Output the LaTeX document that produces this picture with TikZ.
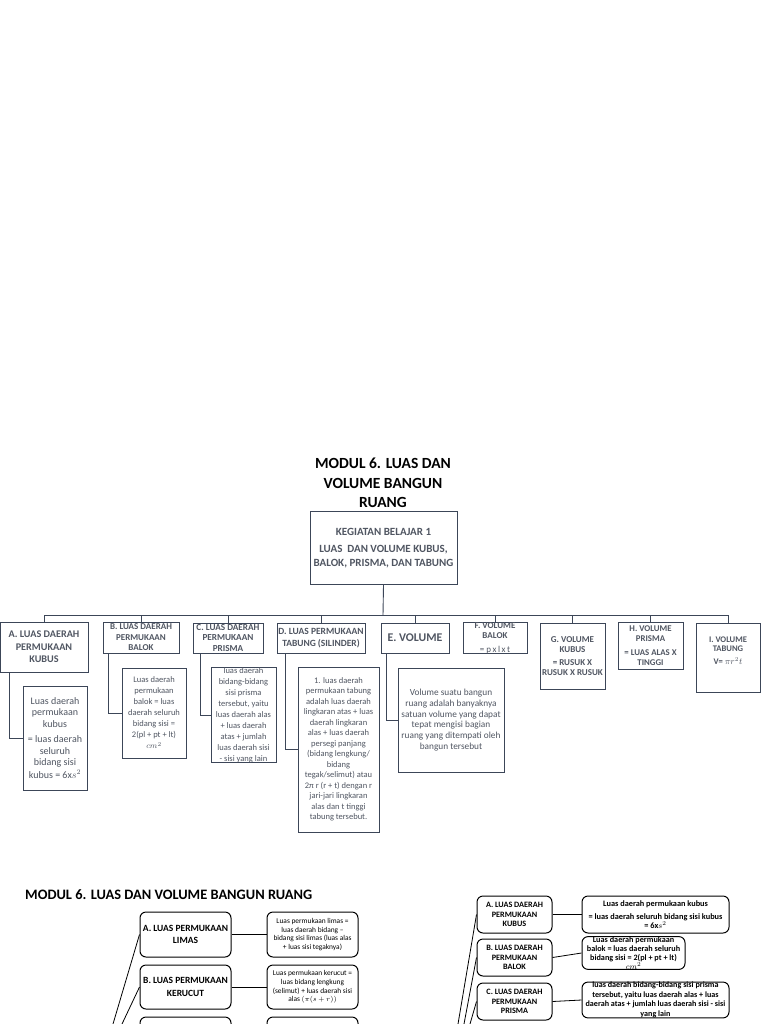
\documentclass[tikz,border=0pt]{standalone}
\usepackage{fontspec}
\setmainfont{Carlito}
\usetikzlibrary{calc}
\definecolor{bordc}{RGB}{60,70,88}
\definecolor{txtc}{RGB}{80,86,98}
\newcommand{\fsz}[2]{\fontsize{#1}{#2}\selectfont}
\begin{document}
\begin{tikzpicture}[x=1pt,y=-1pt,
  tb/.style={draw=bordc, line width=0.9pt, rectangle, inner sep=0pt, align=center, text=txtc},
  conn/.style={draw=bordc, line width=0.9pt},
  rb/.style={draw=black, line width=1pt, rounded corners=6pt, rectangle, inner sep=0pt, align=center, text=black},
  bconn/.style={draw=black, line width=0.8pt}]
\useasboundingbox (0,0) rectangle (768,1024);
\clip (0,0) rectangle (768,1024);
\fill[white] (0,0) rectangle (768,1024);

% ---------- top diagram ----------
\node[font=\bfseries\fsz{15.5}{19.5}, align=center] (title) at (383,483) {MODUL 6. LUAS DAN\\VOLUME BANGUN\\RUANG};

\node[tb, minimum width=147pt, minimum height=73pt, font=\bfseries\fsz{11}{13.5}] (kb) at (383.5,548)
  {KEGIATAN BELAJAR 1\\[3.5pt]LUAS\ \ DAN VOLUME KUBUS,\\BALOK, PRISMA, DAN TABUNG};

\node[tb, minimum width=88pt, minimum height=50pt, font=\bfseries\fsz{10.2}{12.5}] (A) at (44,647)
  {A. LUAS DAERAH\\PERMUKAAN\\KUBUS};
\node[tb, minimum width=76pt, minimum height=31pt, font=\bfseries\fsz{9}{10.5}] (B) at (141,637.5)
  {B. LUAS DAERAH\\PERMUKAAN\\BALOK};
\node[tb, minimum width=70pt, minimum height=30pt, font=\bfseries\fsz{9.2}{10.5}] (C) at (228,638)
  {C. LUAS DAERAH\\PERMUKAAN\\PRISMA};
\node[tb, minimum width=88pt, minimum height=30pt, font=\bfseries\fsz{9.5}{12}] (D) at (321,638)
  {D. LUAS PERMUKAAN\\TABUNG (SILINDER)};
\node[tb, minimum width=68pt, minimum height=30pt, font=\bfseries\fsz{11.8}{12}] (E) at (415,638)
  {E. VOLUME};
\node[tb, minimum width=64pt, minimum height=30pt, font=\bfseries\fsz{9}{10}] (F) at (495,638)
  {F. VOLUME\\BALOK\\[4pt]{\mdseries = p\,x\,l\,x\,t}};
\node[tb, minimum width=65pt, minimum height=66pt, font=\bfseries\fsz{9}{9.5}] (G) at (572.5,656)
  {G. VOLUME\\KUBUS\\[4pt]= RUSUK X\\RUSUK X RUSUK};
\node[tb, minimum width=65pt, minimum height=47pt, font=\bfseries\fsz{8.8}{9.8}] (H) at (650.5,645.5)
  {H. VOLUME\\PRISMA\\[4pt]= LUAS ALAS X\\TINGGI};
\node[tb, minimum width=64pt, minimum height=69pt, font=\bfseries\fsz{8.6}{9}] (I) at (728,657.5)
  {I. VOLUME\\TABUNG\\[4pt]V= $\pi r^2 t$\\[4pt]\mbox{}};

\coordinate (bus) at (383,615);
\draw[conn] (kb.south) -- (bus);
\foreach \n in {A,B,C,D,E,F,G,H,I} \draw[conn] (bus) -| (\n.north);

\node[tb, minimum width=64pt, minimum height=104pt, font=\fsz{10}{11.5}] (Ac) at (55,738)
  {Luas daerah\\permukaan\\kubus\\[4pt]= luas daerah\\seluruh\\bidang sisi\\[1pt]kubus = 6x$s^2$};
\node[tb, minimum width=64pt, minimum height=90pt, font=\fsz{8.5}{11}] (Bc) at (154,713)
  {Luas daerah\\permukaan\\balok = luas\\daerah seluruh\\bidang sisi =\\2(pl + pt + lt)\\$cm^2$};
\node[tb, minimum width=65pt, minimum height=94pt, font=\fsz{8.5}{11}] (Cc) at (243.5,715)
  {luas daerah\\bidang-bidang\\sisi prisma\\tersebut, yaitu\\luas daerah alas\\+ luas daerah\\atas + jumlah\\luas daerah sisi\\- sisi yang lain};
\node[tb, minimum width=81pt, minimum height=165pt, font=\fsz{8.5}{10.5}] (Dc) at (338.5,749.5)
  {1. luas daerah\\permukaan tabung\\adalah luas daerah\\lingkaran atas + luas\\daerah lingkaran\\alas + luas daerah\\persegi panjang\\(bidang lengkung/\\bidang\\tegak/selimut) atau\\2π r (r + t) dengan r\\jari-jari lingkaran\\alas dan t tinggi\\tabung tersebut.};
\node[tb, minimum width=106pt, minimum height=104pt, font=\fsz{9.3}{10.7}] (Ec) at (451,720)
  {Volume suatu bangun\\ruang adalah banyaknya\\satuan volume yang dapat\\tepat mengisi bagian\\ruang yang ditempati oleh\\bangun tersebut};

\draw[conn] ([xshift=10pt]A.south west) |- (Ac.west);
\draw[conn] ([xshift=6pt]B.south west) |- (Bc.west);
\draw[conn] ([xshift=8pt]C.south west) |- (Cc.west);
\draw[conn] ([xshift=9pt]D.south west) |- (Dc.west);
\draw[conn] ([xshift=6pt]E.south west) |- (Ec.west);

% ---------- bottom left diagram ----------
\node[anchor=west, inner sep=0pt, font=\bfseries\fsz{14.4}{16}] (t2) at (25,895) {MODUL 6. LUAS DAN VOLUME BANGUN RUANG};

\node[rb, minimum width=91pt, minimum height=45pt, font=\bfseries\fsz{9.5}{12.5}] (LA) at (185.5,934.5)
  {A. LUAS PERMUKAAN\\LIMAS};
\node[rb, minimum width=91pt, minimum height=45pt, font=\fsz{7.4}{8.7}] (LAc) at (312.5,934.5)
  {Luas permukaan limas =\\luas daerah bidang –\\bidang sisi limas (luas alas\\+ luas sisi tegaknya)};
\node[rb, minimum width=91pt, minimum height=44pt, font=\bfseries\fsz{9.5}{12.5}] (LB) at (185.5,987)
  {B. LUAS PERMUKAAN\\KERUCUT};
\node[rb, minimum width=91pt, minimum height=44pt, font=\fsz{7.4}{8.7}] (LBc) at (312.5,987)
  {Luas permukaan kerucut =\\luas bidang lengkung\\(selimut) + luas daerah sisi\\alas $(\pi(s+r))$};
\node[rb, minimum width=91pt, minimum height=45pt] (LC) at (185.5,1039.5) {};
\node[rb, minimum width=91pt, minimum height=45pt] (LCc) at (312.5,1039.5) {};

\draw[bconn] (LA.east) -- (LAc.west);
\draw[bconn] (LB.east) -- (LBc.west);
\draw[bconn] (LC.east) -- (LCc.west);
\coordinate (p1) at (113,1024);
\coordinate (p2) at (122,1024);
\draw[bconn] (p1) -- (LA.west);
\draw[bconn] (p2) -- (LB.west);

% ---------- bottom right diagram ----------
\node[rb, minimum width=75pt, minimum height=37pt, font=\bfseries\fsz{8.2}{9.6}] (RA) at (514.5,914.5)
  {A. LUAS DAERAH\\PERMUKAAN\\KUBUS};
\node[rb, minimum width=147pt, minimum height=37pt, font=\bfseries\fsz{8.3}{9}] (RAc) at (655.5,914.5)
  {Luas daerah permukaan kubus\\[4pt]= luas daerah seluruh bidang sisi kubus\\= 6x$s^2$};
\node[rb, minimum width=75pt, minimum height=37pt, font=\bfseries\fsz{8.2}{9.6}] (RB) at (514.5,957.5)
  {B. LUAS DAERAH\\PERMUKAAN\\BALOK};
\node[rb, minimum width=103pt, minimum height=28pt, font=\bfseries\fsz{8.2}{9}] (RBc) at (633.5,953)
  {Luas daerah permukaan\\balok = luas daerah seluruh\\bidang sisi = 2(pl + pt + lt)\\{\mdseries$cm^2$}};
\node[rb, minimum width=75pt, minimum height=37pt, font=\bfseries\fsz{8.2}{9.6}] (RC) at (514.5,1001.5)
  {C. LUAS DAERAH\\PERMUKAAN\\PRISMA};
\node[rb, minimum width=147pt, minimum height=34pt, font=\bfseries\fsz{8.1}{9.6}] (RCc) at (655.5,1000)
  {luas daerah bidang-bidang sisi prisma\\tersebut, yaitu luas daerah alas + luas\\daerah atas + jumlah luas daerah sisi - sisi\\yang lain};

\draw[bconn] (RA.east) -- (RAc.west);
\draw[bconn] (RB.east) -- (RBc.west);
\draw[bconn] (RC.east) -- (RCc.west);
\coordinate (q1) at (458,1024);
\coordinate (q2) at (464,1024);
\coordinate (q3) at (470,1024);
\draw[bconn] (q1) -- (RA.west);
\draw[bconn] (q2) -- (RB.west);
\draw[bconn] (q3) -- (RC.west);
\end{tikzpicture}
\end{document}
